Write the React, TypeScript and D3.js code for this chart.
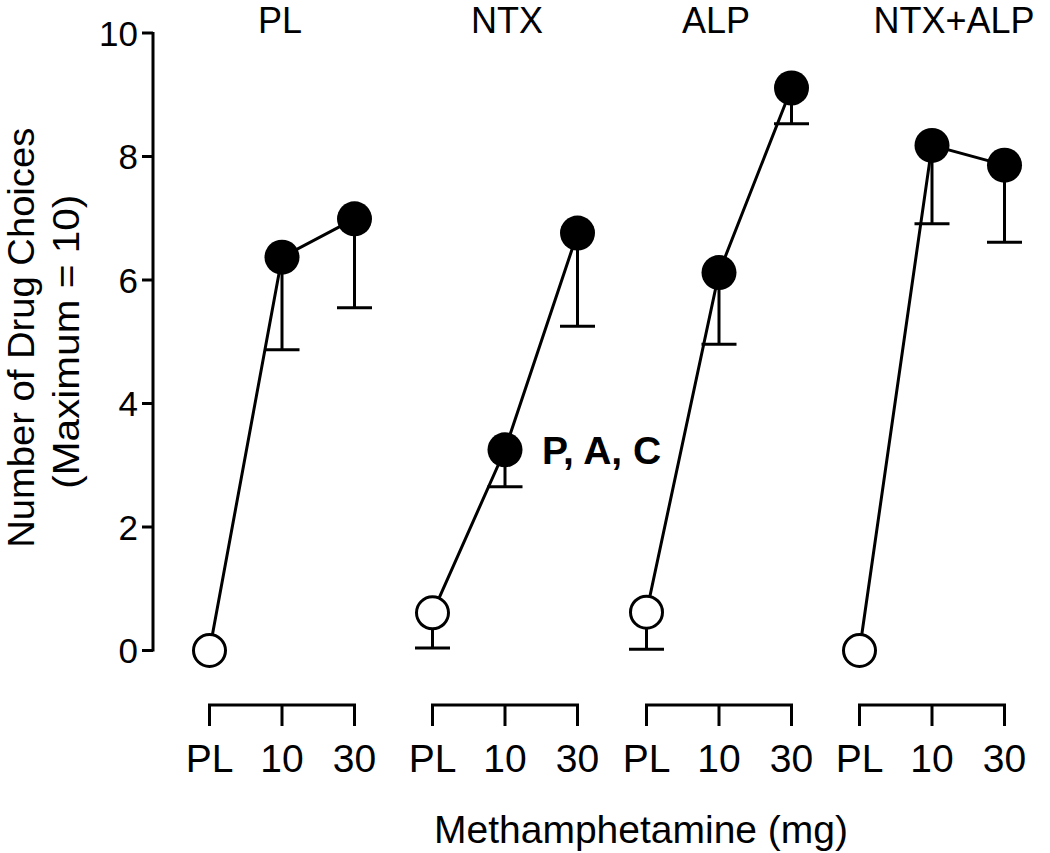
import React from "react";
import * as d3 from "d3";

const panels = ["PL", "NTX", "ALP", "NTX+ALP"];
const doses = ["PL", "10", "30"];
const means: number[][] = [
  [0, 6.37, 6.99],
  [0.61, 3.25, 6.76],
  [0.62, 6.12, 9.11],
  [0, 8.18, 7.86],
];
const sems: number[][] = [
  [0, 1.5, 1.44],
  [0.57, 0.6, 1.51],
  [0.6, 1.16, 0.58],
  [0, 1.27, 1.25],
];
const yTicks = [0, 2, 4, 6, 8, 10];
const annotation = { panel: 1, dose: 1, text: "P, A, C" };

const W = 1050;
const H = 853;
const FONT = "'Liberation Sans', Arial, Helvetica, sans-serif";

// layout: horizontal centre of each panel and title nudges
const panelCenters = [282, 505, 719, 932];
const titleNudge = [-2, 2, -3, 22];

export default function App() {
  const y = d3.scaleLinear().domain([0, 10]).range([650.5, 33]);
  const center = d3.scaleOrdinal<string, number>().domain(panels).range(panelCenters);
  const halfW = 72.5;
  const xOf = (p: string) =>
    d3
      .scalePoint<string>()
      .domain(doses)
      .range([center(p) - halfW, center(p) + halfW]);

  const axisX = 153;
  const bracketY = 705;
  const bracketTick = 21;
  const sw = 3;
  const r = 17.5;
  const capW = 35;
  const line = d3
    .line<[number, number]>()
    .x((d) => d[0])
    .y((d) => d[1]);

  const midY = (y(0) + y(10)) / 2;
  const ap = panels[annotation.panel];

  return (
    <svg
      width={W}
      height={H}
      style={{ position: "absolute", left: 0, top: 0, background: "#fff" }}
      fontFamily={FONT}
    >
      <rect width={W} height={H} fill="#fff" />
      {/* Y axis */}
      <line x1={axisX} x2={axisX} y1={y(10) - 1} y2={y(0) + 1} stroke="#000" strokeWidth={sw} />
      {yTicks.map((t) => (
        <g key={t}>
          <line x1={axisX - 11} x2={axisX} y1={y(t)} y2={y(t)} stroke="#000" strokeWidth={sw} />
          <text x={axisX - 15} y={y(t)} dy="0.36em" textAnchor="end" fontSize={35}>
            {t}
          </text>
        </g>
      ))}
      <g transform={`translate(34,${midY - 4}) rotate(-90)`}>
        <text textAnchor="middle" fontSize={37} textLength={420} lengthAdjust="spacingAndGlyphs">
          Number of Drug Choices
        </text>
      </g>
      <g transform={`translate(79,${midY}) rotate(-90)`}>
        <text textAnchor="middle" fontSize={37} textLength={294} lengthAdjust="spacingAndGlyphs">
          (Maximum = 10)
        </text>
      </g>

      {panels.map((p, pi) => {
        const x = xOf(p);
        const pts: [number, number][] = doses.map((d, di) => [x(d)!, y(means[pi][di])]);
        const x0 = x(doses[0])!;
        const x1 = x(doses[doses.length - 1])!;
        return (
          <g key={p}>
            <text x={center(p) + titleNudge[pi]} y={33} textAnchor="middle" fontSize={36}>
              {p}
            </text>
            {/* bracket axis */}
            <path
              d={`M${x0},${bracketY + bracketTick}V${bracketY}H${x1}V${bracketY + bracketTick}`}
              fill="none"
              stroke="#000"
              strokeWidth={sw}
            />
            {doses.map((d) => (
              <g key={d}>
                <line
                  x1={x(d)}
                  x2={x(d)}
                  y1={bracketY}
                  y2={bracketY + bracketTick}
                  stroke="#000"
                  strokeWidth={sw}
                />
                <text x={x(d)} y={772} textAnchor="middle" fontSize={39}>
                  {d}
                </text>
              </g>
            ))}
            {/* connecting line */}
            <path d={line(pts)!} fill="none" stroke="#000" strokeWidth={sw} />
            {/* error bars */}
            {doses.map((d, di) => {
              const s = sems[pi][di];
              if (s <= 0) return null;
              const lo = y(means[pi][di] - s);
              return (
                <g key={"e" + d}>
                  <line
                    x1={x(d)}
                    x2={x(d)}
                    y1={y(means[pi][di])}
                    y2={lo}
                    stroke="#000"
                    strokeWidth={sw}
                  />
                  <line
                    x1={x(d)! - capW / 2}
                    x2={x(d)! + capW / 2}
                    y1={lo}
                    y2={lo}
                    stroke="#000"
                    strokeWidth={sw}
                  />
                </g>
              );
            })}
            {/* markers */}
            {doses.map((d, di) =>
              di === 0 ? (
                <circle
                  key={"m" + d}
                  cx={x(d)}
                  cy={y(means[pi][di])}
                  r={r - 1.5}
                  fill="#fff"
                  stroke="#000"
                  strokeWidth={sw}
                />
              ) : (
                <circle key={"m" + d} cx={x(d)} cy={y(means[pi][di])} r={r} fill="#000" />
              )
            )}
          </g>
        );
      })}

      <text
        x={xOf(ap)(doses[annotation.dose])! + 37}
        y={y(means[annotation.panel][annotation.dose])}
        dy="0.36em"
        fontSize={39}
        fontWeight="bold"
      >
        {annotation.text}
      </text>

      <text x={641} y={843} textAnchor="middle" fontSize={39}>
        Methamphetamine (mg)
      </text>
    </svg>
  );
}
